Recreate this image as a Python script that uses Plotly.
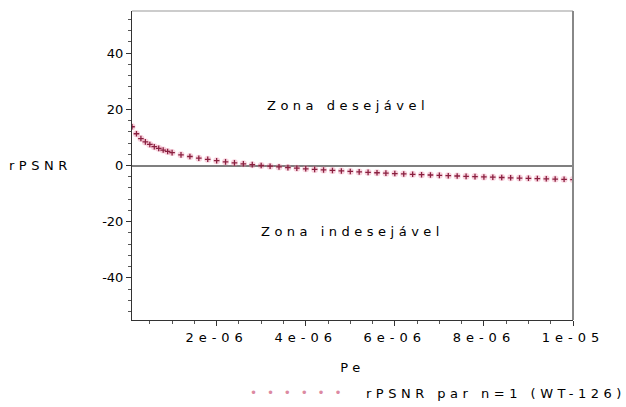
import plotly.graph_objects as go

pe = [1e-7, 2e-7, 3e-7, 4e-7, 5e-7, 6e-7, 7e-7, 8e-7, 9e-7, 1.0e-6,
      1.2e-6, 1.4e-6, 1.6e-6, 1.8e-6, 2.0e-6, 2.2e-6, 2.4e-6, 2.6e-6, 2.8e-6, 3.0e-6,
      3.2e-6, 3.4e-6, 3.6e-6, 3.8e-6, 4.0e-6, 4.2e-6, 4.4e-6, 4.6e-6, 4.8e-6, 5.0e-6,
      5.2e-6, 5.4e-6, 5.6e-6, 5.8e-6, 6.0e-6, 6.2e-6, 6.4e-6, 6.6e-6, 6.8e-6, 7.0e-6,
      7.2e-6, 7.4e-6, 7.6e-6, 7.8e-6, 8.0e-6, 8.2e-6, 8.4e-6, 8.6e-6, 8.8e-6, 9.0e-6,
      9.2e-6, 9.4e-6, 9.6e-6, 9.8e-6, 1.0e-5]
rpsnr = [13.8, 11.3, 9.6, 8.4, 7.5, 6.7, 6.1, 5.5, 5.0, 4.6,
         3.8, 3.2, 2.6, 2.2, 1.7, 1.3, 0.95, 0.6, 0.3, 0.0,
         -0.25, -0.5, -0.74, -0.97, -1.18, -1.38, -1.58, -1.76, -1.94, -2.11,
         -2.27, -2.43, -2.58, -2.72, -2.87, -3.0, -3.14, -3.27, -3.39, -3.51,
         -3.63, -3.74, -3.86, -3.96, -4.07, -4.17, -4.27, -4.37, -4.47, -4.56,
         -4.65, -4.74, -4.83, -4.92, -5.0]

series_name = "rPSNR par n=1 (WT-126)"
x_ticks = [2e-6, 4e-6, 6e-6, 8e-6, 1e-5]
x_ticklabels = ["2e-06", "4e-06", "6e-06", "8e-06", "1e-05"]
y_ticks = [-40, -20, 0, 20, 40]
y_ticklabels = ["-40", "-20", "0", "20", "40"]

FONT = "DejaVu Sans"


def spaced(s, px=4.5):
    return f'<span style="letter-spacing:{px}px">{s}</span>'


fig = go.Figure()
# soft pink halo under the markers
fig.add_trace(go.Scatter(
    x=pe, y=rpsnr, mode="markers", showlegend=False, hoverinfo="skip",
    marker=dict(symbol="circle", size=7, color="rgba(235,130,160,0.35)", line=dict(width=0)),
))
fig.add_trace(go.Scatter(
    x=pe, y=rpsnr, mode="markers", name=series_name, showlegend=False,
    marker=dict(symbol="cross-thin", size=4, color="#8a2040",
                line=dict(width=1.3, color="#8a2040")),
))

fig.update_layout(
    width=626, height=407,
    margin=dict(l=132, r=53, t=11, b=87),
    paper_bgcolor="white", plot_bgcolor="white",
    font=dict(family=FONT, size=13, color="black"),
    showlegend=False,
    xaxis=dict(range=[1e-7, 1e-5], tickvals=x_ticks,
               ticktext=[spaced(t, 5) for t in x_ticklabels],
               showgrid=False, zeroline=False, showline=True, linecolor="#333",
               linewidth=1, ticks="outside", ticklen=5, tickcolor="#333",
               tickfont=dict(size=13),
               minor=dict(dtick=5e-7, tick0=0, ticks="outside", ticklen=3, tickcolor="#555"),
               title=dict(text=spaced("Pe"), standoff=19, font=dict(size=13))),
    yaxis=dict(range=[-55, 55], tickvals=y_ticks, ticktext=y_ticklabels, showgrid=False,
               zeroline=True, zerolinecolor="#7f7f7f", zerolinewidth=2,
               showline=True, linecolor="#333", linewidth=1,
               ticks="outside", ticklen=5, tickcolor="#333",
               tickfont=dict(size=13),
               minor=dict(dtick=4, tick0=0, ticks="outside", ticklen=3, tickcolor="#555")),
    annotations=[
        dict(text=spaced("rPSNR"), xref="paper", yref="y", x=-0.208, y=0, showarrow=False,
             xanchor="center", yanchor="middle", font=dict(size=13)),
        dict(text=spaced("Zona desejável"), xref="paper", yref="paper", x=0.49, y=0.693,
             yanchor="middle", showarrow=False, font=dict(size=13)),
        dict(text=spaced("Zona indesejável"), xref="paper", yref="paper", x=0.50, y=0.285,
             yanchor="middle", showarrow=False, font=dict(size=13)),
        # legend
        dict(text=spaced("• • • • • •", 3), xref="paper", yref="paper", x=0.262, y=-0.237,
             xanchor="left", yanchor="middle", showarrow=False,
             font=dict(size=12, color="#dc8aa2")),
        dict(text=spaced(series_name), xref="paper", yref="paper", x=0.525, y=-0.237,
             xanchor="left", yanchor="middle", showarrow=False, font=dict(size=13)),
    ],
    shapes=[
        dict(type="line", xref="paper", yref="paper", x0=0, x1=1, y0=1, y1=1,
             line=dict(color="#999", width=1)),
        dict(type="line", xref="paper", yref="paper", x0=1, x1=1, y0=0, y1=1,
             line=dict(color="#888", width=2)),
    ],
)

fig.write_html("out.html", config={"displayModeBar": False},
               post_script="document.body.style.margin='0';")
